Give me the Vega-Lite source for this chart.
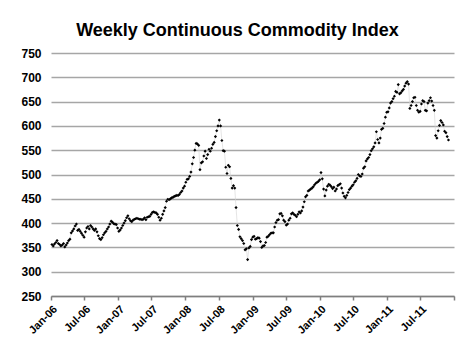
{
"$schema": "https://vega.github.io/schema/vega-lite/v6.json",
"width": 403,
"height": 243,
"autosize": {"type": "none"},
"padding": {"left": 51, "top": 53, "right": 20, "bottom": 58},
"background": "white",
"title": {"text": "Weekly Continuous Commodity Index", "font": "Liberation Sans", "fontSize": 18, "fontWeight": "bold", "color": "#000000", "anchor": "middle", "dx": -15, "offset": 7},
"config": {"view": {"stroke": null}, "axis": {"labelFont": "Liberation Sans", "labelFontWeight": "bold", "labelColor": "#000000"}},
"data": {"values": [
{"d":"2006-01-06","v":356},{"d":"2006-01-13","v":353},{"d":"2006-01-20","v":357},{"d":"2006-01-27","v":360},
{"d":"2006-02-03","v":364},{"d":"2006-02-10","v":358},{"d":"2006-02-17","v":356},{"d":"2006-02-24","v":353},
{"d":"2006-03-03","v":355},{"d":"2006-03-10","v":358},{"d":"2006-03-17","v":351},{"d":"2006-03-24","v":355},{"d":"2006-03-31","v":359},
{"d":"2006-04-07","v":364},{"d":"2006-04-14","v":367},{"d":"2006-04-21","v":380},{"d":"2006-04-28","v":384},
{"d":"2006-05-05","v":388},{"d":"2006-05-12","v":394},{"d":"2006-05-19","v":398},{"d":"2006-05-26","v":385},
{"d":"2006-06-02","v":387},{"d":"2006-06-09","v":383},{"d":"2006-06-16","v":379},{"d":"2006-06-23","v":375},{"d":"2006-06-30","v":371},
{"d":"2006-07-07","v":382},{"d":"2006-07-14","v":390},{"d":"2006-07-21","v":393},{"d":"2006-07-28","v":388},
{"d":"2006-08-04","v":395},{"d":"2006-08-11","v":392},{"d":"2006-08-18","v":388},{"d":"2006-08-25","v":385},
{"d":"2006-09-01","v":388},{"d":"2006-09-08","v":382},{"d":"2006-09-15","v":374},{"d":"2006-09-22","v":368},{"d":"2006-09-29","v":366},
{"d":"2006-10-06","v":370},{"d":"2006-10-13","v":376},{"d":"2006-10-20","v":380},{"d":"2006-10-27","v":383},
{"d":"2006-11-03","v":388},{"d":"2006-11-10","v":392},{"d":"2006-11-17","v":398},{"d":"2006-11-24","v":404},
{"d":"2006-12-01","v":402},{"d":"2006-12-08","v":399},{"d":"2006-12-15","v":398},{"d":"2006-12-22","v":397},{"d":"2006-12-29","v":390},
{"d":"2007-01-05","v":383},{"d":"2007-01-12","v":386},{"d":"2007-01-19","v":390},{"d":"2007-01-26","v":395},
{"d":"2007-02-02","v":400},{"d":"2007-02-09","v":405},{"d":"2007-02-16","v":411},{"d":"2007-02-23","v":415},
{"d":"2007-03-02","v":409},{"d":"2007-03-09","v":405},{"d":"2007-03-16","v":403},{"d":"2007-03-23","v":406},{"d":"2007-03-30","v":408},
{"d":"2007-04-06","v":409},{"d":"2007-04-13","v":410},{"d":"2007-04-20","v":409},{"d":"2007-04-27","v":408},
{"d":"2007-05-04","v":408},{"d":"2007-05-11","v":407},{"d":"2007-05-18","v":408},{"d":"2007-05-25","v":411},
{"d":"2007-06-01","v":407},{"d":"2007-06-08","v":412},{"d":"2007-06-15","v":413},{"d":"2007-06-22","v":414},{"d":"2007-06-29","v":418},
{"d":"2007-07-06","v":422},{"d":"2007-07-13","v":423},{"d":"2007-07-20","v":422},{"d":"2007-07-27","v":421},
{"d":"2007-08-03","v":418},{"d":"2007-08-10","v":412},{"d":"2007-08-17","v":406},{"d":"2007-08-24","v":410},{"d":"2007-08-31","v":418},
{"d":"2007-09-07","v":425},{"d":"2007-09-14","v":432},{"d":"2007-09-21","v":445},{"d":"2007-09-28","v":449},
{"d":"2007-10-05","v":448},{"d":"2007-10-12","v":450},{"d":"2007-10-19","v":452},{"d":"2007-10-26","v":453},
{"d":"2007-11-02","v":455},{"d":"2007-11-09","v":456},{"d":"2007-11-16","v":457},{"d":"2007-11-23","v":457},{"d":"2007-11-30","v":459},
{"d":"2007-12-07","v":463},{"d":"2007-12-14","v":466},{"d":"2007-12-21","v":472},{"d":"2007-12-28","v":476},
{"d":"2008-01-04","v":484},{"d":"2008-01-11","v":490},{"d":"2008-01-18","v":491},{"d":"2008-01-25","v":496},
{"d":"2008-02-01","v":505},{"d":"2008-02-08","v":522},{"d":"2008-02-15","v":535},{"d":"2008-02-22","v":550},{"d":"2008-02-29","v":564},
{"d":"2008-03-07","v":563},{"d":"2008-03-14","v":560},{"d":"2008-03-21","v":510},{"d":"2008-03-28","v":524},
{"d":"2008-04-04","v":526},{"d":"2008-04-11","v":538},{"d":"2008-04-18","v":548},{"d":"2008-04-25","v":533},
{"d":"2008-05-02","v":541},{"d":"2008-05-09","v":552},{"d":"2008-05-16","v":548},{"d":"2008-05-23","v":554},{"d":"2008-05-30","v":562},
{"d":"2008-06-06","v":566},{"d":"2008-06-13","v":578},{"d":"2008-06-20","v":590},{"d":"2008-06-27","v":600},
{"d":"2008-07-04","v":612},{"d":"2008-07-11","v":600},{"d":"2008-07-18","v":570},{"d":"2008-07-25","v":549},
{"d":"2008-08-01","v":548},{"d":"2008-08-08","v":515},{"d":"2008-08-15","v":502},{"d":"2008-08-22","v":519},{"d":"2008-08-29","v":516},
{"d":"2008-09-05","v":492},{"d":"2008-09-12","v":472},{"d":"2008-09-19","v":477},{"d":"2008-09-26","v":472},
{"d":"2008-10-03","v":432},{"d":"2008-10-10","v":395},{"d":"2008-10-17","v":387},{"d":"2008-10-24","v":372},{"d":"2008-10-31","v":368},
{"d":"2008-11-07","v":364},{"d":"2008-11-14","v":358},{"d":"2008-11-21","v":345},{"d":"2008-11-28","v":347},
{"d":"2008-12-05","v":325},{"d":"2008-12-12","v":349},{"d":"2008-12-19","v":352},{"d":"2008-12-26","v":366},
{"d":"2009-01-02","v":371},{"d":"2009-01-09","v":373},{"d":"2009-01-16","v":367},{"d":"2009-01-23","v":368},{"d":"2009-01-30","v":370},
{"d":"2009-02-06","v":369},{"d":"2009-02-13","v":362},{"d":"2009-02-20","v":350},{"d":"2009-02-27","v":353},
{"d":"2009-03-06","v":354},{"d":"2009-03-13","v":360},{"d":"2009-03-20","v":371},{"d":"2009-03-27","v":373},
{"d":"2009-04-03","v":376},{"d":"2009-04-10","v":379},{"d":"2009-04-17","v":380},{"d":"2009-04-24","v":380},
{"d":"2009-05-01","v":392},{"d":"2009-05-08","v":401},{"d":"2009-05-15","v":406},{"d":"2009-05-22","v":407},{"d":"2009-05-29","v":419},
{"d":"2009-06-05","v":420},{"d":"2009-06-12","v":415},{"d":"2009-06-19","v":406},{"d":"2009-06-26","v":403},
{"d":"2009-07-03","v":396},{"d":"2009-07-10","v":398},{"d":"2009-07-17","v":406},{"d":"2009-07-24","v":410},{"d":"2009-07-31","v":419},
{"d":"2009-08-07","v":421},{"d":"2009-08-14","v":418},{"d":"2009-08-21","v":416},{"d":"2009-08-28","v":413},
{"d":"2009-09-04","v":418},{"d":"2009-09-11","v":423},{"d":"2009-09-18","v":421},{"d":"2009-09-25","v":425},
{"d":"2009-10-02","v":433},{"d":"2009-10-09","v":444},{"d":"2009-10-16","v":454},{"d":"2009-10-23","v":457},{"d":"2009-10-30","v":466},
{"d":"2009-11-06","v":468},{"d":"2009-11-13","v":470},{"d":"2009-11-20","v":472},{"d":"2009-11-27","v":475},
{"d":"2009-12-04","v":479},{"d":"2009-12-11","v":482},{"d":"2009-12-18","v":484},{"d":"2009-12-25","v":486},
{"d":"2010-01-01","v":489},{"d":"2010-01-08","v":504},{"d":"2010-01-15","v":491},{"d":"2010-01-22","v":470},{"d":"2010-01-29","v":456},
{"d":"2010-02-05","v":468},{"d":"2010-02-12","v":476},{"d":"2010-02-19","v":480},{"d":"2010-02-26","v":478},
{"d":"2010-03-05","v":475},{"d":"2010-03-12","v":471},{"d":"2010-03-19","v":474},{"d":"2010-03-26","v":466},
{"d":"2010-04-02","v":470},{"d":"2010-04-09","v":477},{"d":"2010-04-16","v":479},{"d":"2010-04-23","v":481},{"d":"2010-04-30","v":472},
{"d":"2010-05-07","v":462},{"d":"2010-05-14","v":455},{"d":"2010-05-21","v":452},{"d":"2010-05-28","v":457},
{"d":"2010-06-04","v":463},{"d":"2010-06-11","v":469},{"d":"2010-06-18","v":472},{"d":"2010-06-25","v":476},
{"d":"2010-07-02","v":479},{"d":"2010-07-09","v":484},{"d":"2010-07-16","v":487},{"d":"2010-07-23","v":492},{"d":"2010-07-30","v":500},
{"d":"2010-08-06","v":497},{"d":"2010-08-13","v":496},{"d":"2010-08-20","v":501},{"d":"2010-08-27","v":513},
{"d":"2010-09-03","v":516},{"d":"2010-09-10","v":528},{"d":"2010-09-17","v":532},{"d":"2010-09-24","v":535},
{"d":"2010-10-01","v":541},{"d":"2010-10-08","v":549},{"d":"2010-10-15","v":553},{"d":"2010-10-22","v":557},{"d":"2010-10-29","v":565},
{"d":"2010-11-05","v":588},{"d":"2010-11-12","v":572},{"d":"2010-11-19","v":565},{"d":"2010-11-26","v":575},
{"d":"2010-12-03","v":593},{"d":"2010-12-10","v":595},{"d":"2010-12-17","v":605},{"d":"2010-12-24","v":618},{"d":"2010-12-31","v":628},
{"d":"2011-01-07","v":629},{"d":"2011-01-14","v":637},{"d":"2011-01-21","v":647},{"d":"2011-01-28","v":650},
{"d":"2011-02-04","v":656},{"d":"2011-02-11","v":661},{"d":"2011-02-18","v":671},{"d":"2011-02-25","v":669},
{"d":"2011-03-04","v":685},{"d":"2011-03-11","v":666},{"d":"2011-03-18","v":668},{"d":"2011-03-25","v":672},
{"d":"2011-04-01","v":675},{"d":"2011-04-08","v":682},{"d":"2011-04-15","v":688},{"d":"2011-04-22","v":691},{"d":"2011-04-29","v":686},
{"d":"2011-05-06","v":636},{"d":"2011-05-13","v":642},{"d":"2011-05-20","v":650},{"d":"2011-05-27","v":658},
{"d":"2011-06-03","v":659},{"d":"2011-06-10","v":642},{"d":"2011-06-17","v":632},{"d":"2011-06-24","v":628},
{"d":"2011-07-01","v":630},{"d":"2011-07-08","v":645},{"d":"2011-07-15","v":652},{"d":"2011-07-22","v":650},{"d":"2011-07-29","v":632},
{"d":"2011-08-05","v":631},{"d":"2011-08-12","v":647},{"d":"2011-08-19","v":652},{"d":"2011-08-26","v":658},
{"d":"2011-09-02","v":651},{"d":"2011-09-09","v":642},{"d":"2011-09-16","v":632},{"d":"2011-09-23","v":580},{"d":"2011-09-30","v":575},
{"d":"2011-10-07","v":590},{"d":"2011-10-14","v":601},{"d":"2011-10-21","v":611},{"d":"2011-10-28","v":607},
{"d":"2011-11-04","v":602},{"d":"2011-11-11","v":589},{"d":"2011-11-18","v":586},{"d":"2011-11-25","v":578},
{"d":"2011-12-02","v":571}
]},
"encoding": {
  "x": {"field": "d", "type": "temporal",
    "scale": {"type": "utc", "domain": [{"year": 2006, "month": 1, "date": 1, "utc": true}, {"year": 2012, "month": 1, "date": 1, "utc": true}]},
    "axis": {"title": null, "grid": false,
      "values": [
        {"year": 2006, "month": 1, "date": 1, "utc": true}, {"year": 2006, "month": 7, "date": 1, "utc": true},
        {"year": 2007, "month": 1, "date": 1, "utc": true}, {"year": 2007, "month": 7, "date": 1, "utc": true},
        {"year": 2008, "month": 1, "date": 1, "utc": true}, {"year": 2008, "month": 7, "date": 1, "utc": true},
        {"year": 2009, "month": 1, "date": 1, "utc": true}, {"year": 2009, "month": 7, "date": 1, "utc": true},
        {"year": 2010, "month": 1, "date": 1, "utc": true}, {"year": 2010, "month": 7, "date": 1, "utc": true},
        {"year": 2011, "month": 1, "date": 1, "utc": true}, {"year": 2011, "month": 7, "date": 1, "utc": true},
        {"year": 2012, "month": 1, "date": 1, "utc": true}],
      "labelExpr": "utcyear(datum.value) >= 2012 ? '' : utcFormat(datum.value, '%b-%y')",
      "labelAngle": -45, "labelAlign": "right", "labelBaseline": "top",
      "labelFontSize": 11, "labelPadding": 3, "labelOverlap": false, "labelFlush": false, "labelBound": false,
      "tickSize": 4, "tickColor": "#7f7f7f", "tickWidth": 1.5,
      "domainColor": "#7f7f7f", "domainWidth": 1.5}},
  "y": {"field": "v", "type": "quantitative",
    "scale": {"domain": [250, 750], "nice": false, "zero": false},
    "axis": {"title": null, "values": [250, 300, 350, 400, 450, 500, 550, 600, 650, 700, 750],
      "domain": false, "ticks": false, "gridColor": "#a6a6a6", "gridWidth": 1.5,
      "labelFontSize": 12, "labelPadding": 10}}
},
"layer": [
  {"mark": {"type": "line", "color": "#d4d4d4", "strokeWidth": 0.6}},
  {"mark": {"type": "point", "shape": "diamond", "filled": true, "color": "#000000", "opacity": 1, "size": 10}}
]
}
